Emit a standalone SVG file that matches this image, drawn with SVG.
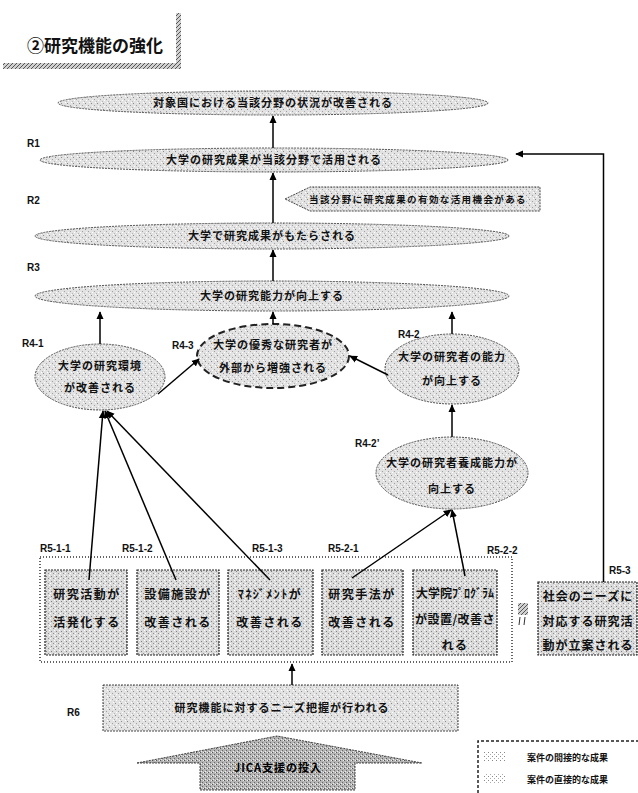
<svg xmlns="http://www.w3.org/2000/svg" width="638" height="793" viewBox="0 0 638 793">
<defs>
<pattern id="pL" width="6" height="6" patternUnits="userSpaceOnUse"><rect width="6" height="6" fill="#e2e2e2"/><rect x="1" y="1" width="1" height="1" fill="#8a8a8a"/><rect x="4" y="3" width="1" height="1" fill="#a0a0a0"/><rect x="2" y="4" width="1" height="1" fill="#fff"/><rect x="5" y="0" width="1" height="1" fill="#fff"/><rect x="0" y="5" width="1" height="1" fill="#b5b5b5"/></pattern>
<pattern id="pB" width="5" height="5" patternUnits="userSpaceOnUse"><rect width="5" height="5" fill="#dadada"/><rect x="1" y="1" width="1" height="1" fill="#808080"/><rect x="3" y="3" width="1" height="1" fill="#909090"/><rect x="0" y="3" width="1" height="1" fill="#fff"/><rect x="4" y="0" width="1" height="1" fill="#fff"/></pattern>
<pattern id="pD" width="4" height="4" patternUnits="userSpaceOnUse"><rect width="4" height="4" fill="#b4b4b4"/><rect x="0" y="0" width="1" height="1" fill="#555"/><rect x="2" y="2" width="1" height="1" fill="#666"/><rect x="3" y="0" width="1" height="1" fill="#eee"/><rect x="1" y="3" width="1" height="1" fill="#eee"/></pattern>
<pattern id="pH" width="4" height="4" patternUnits="userSpaceOnUse"><rect width="4" height="4" fill="#d0d0d0"/><path d="M0,4 L4,0" stroke="#555" stroke-width="1"/></pattern>
<pattern id="pS" width="4" height="4" patternUnits="userSpaceOnUse"><rect width="4" height="4" fill="#fff"/><rect x="0" y="0" width="1" height="1" fill="#888"/><rect x="2" y="2" width="1" height="1" fill="#aaa"/></pattern>
<marker id="ah" viewBox="0 0 10 10" refX="9" refY="5" markerWidth="8" markerHeight="8" markerUnits="userSpaceOnUse" orient="auto"><path d="M0,0.5 L10,5 L0,9.5 z" fill="#000"/></marker>
</defs>
<style>
.t{font-family:"Noto Sans CJK JP","Noto Sans CJK SC",sans-serif;font-weight:bold;font-size:11px;letter-spacing:1px;text-anchor:middle;fill:#111}
.bt{font-family:"Noto Sans CJK JP","Noto Sans CJK SC",sans-serif;font-weight:bold;font-size:12px;letter-spacing:1.5px;text-anchor:middle;fill:#111}
.lb{font-family:"Liberation Sans",Arial,sans-serif;font-weight:bold;font-size:10px;fill:#111}
.el{fill:url(#pL);stroke:#555;stroke-width:1;stroke-dasharray:2 1}
.bx{fill:url(#pB);stroke:#222;stroke-width:1.2;stroke-dasharray:2 1}
.cn{fill:none;stroke:#000;stroke-width:1.5;marker-end:url(#ah)}
</style>
<rect width="638" height="793" fill="#fff"/>

<g id="title">
<rect x="176" y="13" width="5" height="56" fill="url(#pH)"/>
<rect x="3" y="63" width="176" height="6" fill="url(#pH)"/>
<text x="27" y="52" style="font-family:'Noto Sans CJK JP',sans-serif;font-weight:bold;font-size:17px;fill:#111">②研究機能の強化</text>
</g>

<g id="R0">
<ellipse class="el" cx="273" cy="103" rx="215" ry="12"/>
<text class="t" x="273" y="107">対象国における当該分野の状況が改善される</text>
</g>
<g id="R1">
<ellipse class="el" cx="274" cy="160" rx="234" ry="12"/>
<text class="t" x="274" y="164">大学の研究成果が当該分野で活用される</text>
</g>
<g id="R2note">
<polygon points="285,199 310,187 540,187 540,211 310,211" fill="url(#pL)" stroke="#444" stroke-width="1" stroke-dasharray="2 1"/>
<text x="418" y="203" style="font-family:'Noto Sans CJK JP',sans-serif;font-weight:bold;font-size:9.5px;letter-spacing:1.4px;text-anchor:middle;fill:#111">当該分野に研究成果の有効な活用機会がある</text>
</g>
<g id="R2">
<ellipse class="el" cx="272" cy="236" rx="237" ry="13"/>
<text class="t" x="272" y="240">大学で研究成果がもたらされる</text>
</g>
<g id="R3">
<ellipse class="el" cx="272" cy="296" rx="237" ry="15"/>
<text class="t" x="272" y="300">大学の研究能力が向上する</text>
</g>
<g id="R4-1">
<ellipse class="el" cx="100" cy="377" rx="65" ry="33"/>
<text class="t" x="100" y="370">大学の研究環境</text>
<text class="t" x="100" y="392">が改善される</text>
</g>
<g id="R4-3">
<ellipse cx="273" cy="356" rx="76" ry="32" fill="url(#pL)" stroke="#222" stroke-width="2" stroke-dasharray="7 4"/>
<text class="t" x="273" y="349">大学の優秀な研究者が</text>
<text class="t" x="273" y="372">外部から増強される</text>
</g>
<g id="R4-2">
<ellipse class="el" cx="452" cy="369" rx="67" ry="35"/>
<text class="t" x="452" y="361">大学の研究者の能力</text>
<text class="t" x="452" y="385">が向上する</text>
</g>
<g id="R4-2p">
<ellipse class="el" cx="452" cy="473" rx="76" ry="36"/>
<text class="t" x="452" y="467">大学の研究者養成能力が</text>
<text class="t" x="452" y="493">向上する</text>
</g>

<g id="R5group">
<rect x="40" y="557" width="472" height="105" fill="none" stroke="#333" stroke-width="1.5" stroke-dasharray="1 2"/>
</g>
<g id="R5-1-1">
<rect class="bx" x="45" y="570" width="82" height="85"/>
<text class="bt" x="87" y="599">研究活動が</text>
<text class="bt" x="87" y="627">活発化する</text>
</g>
<g id="R5-1-2">
<rect class="bx" x="137" y="570" width="82" height="85"/>
<text class="bt" x="178" y="599">設備施設が</text>
<text class="bt" x="178" y="627">改善される</text>
</g>
<g id="R5-1-3">
<rect class="bx" x="228" y="570" width="85" height="85"/>
<text class="bt" x="270" y="599">ﾏﾈｼﾞﾒﾝﾄが</text>
<text class="bt" x="270" y="627">改善される</text>
</g>
<g id="R5-2-1">
<rect class="bx" x="322" y="570" width="81" height="85"/>
<text class="bt" x="362" y="599">研究手法が</text>
<text class="bt" x="362" y="627">改善される</text>
</g>
<g id="R5-2-2">
<rect class="bx" x="413" y="570" width="84" height="85"/>
<text class="bt" x="455" y="598" style="letter-spacing:0">大学院ﾌﾟﾛｸﾞﾗﾑ</text>
<text class="bt" x="455" y="624" style="letter-spacing:0.5px">が設置/改善さ</text>
<text class="bt" x="455" y="650">れる</text>
</g>
<g id="mark">
<rect x="518" y="603" width="10" height="12" fill="url(#pH)"/>
<path d="M520,617 l-1,8 M525,617 l-1,8" stroke="#333" stroke-width="1"/>
</g>
<g id="R5-3">
<rect class="bx" x="538" y="582" width="99" height="73"/>
<text class="bt" x="588" y="601" style="letter-spacing:1px">社会のニーズに</text>
<text class="bt" x="588" y="626" style="letter-spacing:1px">対応する研究活</text>
<text class="bt" x="588" y="650" style="letter-spacing:1px">動が立案される</text>
</g>
<g id="R6">
<rect x="103" y="685" width="355" height="46" fill="url(#pL)" stroke="#444" stroke-width="1" stroke-dasharray="2 1"/>
<text class="t" x="282" y="712">研究機能に対するニーズ把握が行われる</text>
</g>
<g id="JICA">
<polygon points="137,763 277,736 422,763 355,763 355,790 200,790 200,763" fill="url(#pD)" stroke="#444" stroke-width="1" stroke-dasharray="2 1"/>
<text class="t" x="278" y="772" style="fill:#000">JICA支援の投入</text>
</g>
<g id="legend">
<path d="M478,793 L478,741 L638,741" fill="none" stroke="#222" stroke-width="1.5" stroke-dasharray="3 2"/>
<rect x="483" y="752" width="22" height="10" fill="url(#pS)"/>
<text x="527" y="761" style="font-family:'Noto Sans CJK JP',sans-serif;font-weight:bold;font-size:9px;fill:#111">案件の間接的な成果</text>
<rect x="483" y="774" width="22" height="10" fill="url(#pS)"/>
<text x="527" y="783" style="font-family:'Noto Sans CJK JP',sans-serif;font-weight:bold;font-size:9px;fill:#111">案件の直接的な成果</text>
</g>

<g id="labels">
<text class="lb" x="27" y="147">R1</text>
<text class="lb" x="27" y="204">R2</text>
<text class="lb" x="27" y="271">R3</text>
<text class="lb" x="22" y="347">R4-1</text>
<text class="lb" x="172" y="349">R4-3</text>
<text class="lb" x="398" y="338">R4-2</text>
<text class="lb" x="355" y="447">R4-2’</text>
<text class="lb" x="40" y="552">R5-1-1</text>
<text class="lb" x="122" y="552">R5-1-2</text>
<text class="lb" x="252" y="552">R5-1-3</text>
<text class="lb" x="328" y="552">R5-2-1</text>
<text class="lb" x="487" y="554">R5-2-2</text>
<text class="lb" x="609" y="574">R5-3</text>
<text class="lb" x="67" y="716">R6</text>
</g>

<g id="connectors">
<line class="cn" x1="273" y1="148" x2="273" y2="116"/>
<line class="cn" x1="273" y1="223" x2="273" y2="173"/>
<line class="cn" x1="273" y1="281" x2="273" y2="250"/>
<line class="cn" x1="100" y1="344" x2="100" y2="312"/>
<line class="cn" x1="273" y1="324" x2="273" y2="312"/>
<line class="cn" x1="452" y1="334" x2="452" y2="312"/>
<line class="cn" x1="158" y1="394" x2="199" y2="359"/>
<line class="cn" x1="388" y1="375" x2="350" y2="356"/>
<line class="cn" x1="452" y1="437" x2="452" y2="405"/>
<line class="cn" x1="89" y1="580" x2="103" y2="411"/>
<line class="cn" x1="176" y1="580" x2="105" y2="411"/>
<line class="cn" x1="270" y1="580" x2="107" y2="411"/>
<line class="cn" x1="352" y1="578" x2="451" y2="510"/>
<line class="cn" x1="465" y1="576" x2="452" y2="510"/>
<polyline class="cn" points="603.5,582 603.5,154 516,154"/>
<line class="cn" x1="292" y1="685" x2="292" y2="664"/>
</g>
</svg>
